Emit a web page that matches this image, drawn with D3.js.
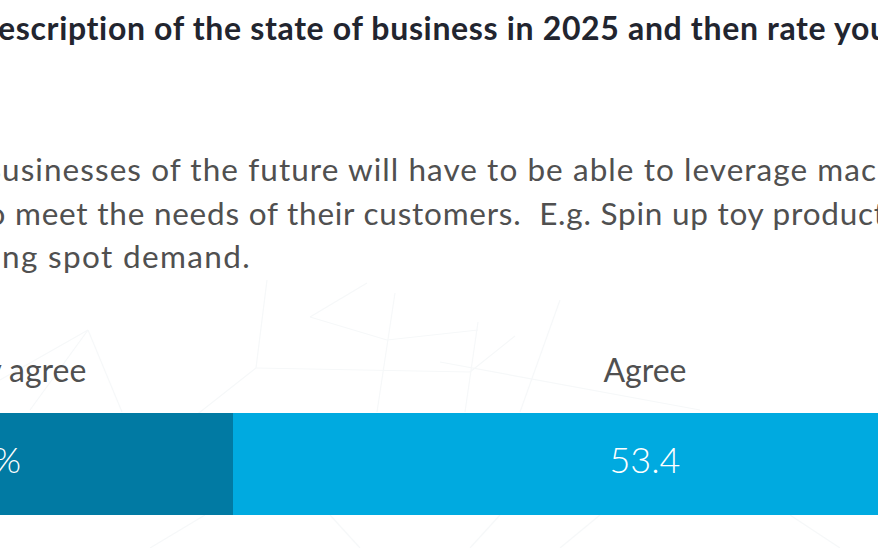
<!DOCTYPE html>
<html>
<head>
<meta charset="utf-8">
<script src="https://cdn.jsdelivr.net/npm/d3@7"></script>
<style>
  html, body { margin: 0; padding: 0; background: #ffffff; overflow: hidden; }
  svg { display: block; }
  text { white-space: pre; }
</style>
</head>
<body>
<svg id="chart" width="878" height="548"></svg>
<script>
// ---- data ----
const questionTitle = "Read the description of the state of business in 2025 and then rate your level of agreement";
const statementLines = [
  "Businesses of the future will have to be able to leverage machines",
  "to meet the needs of their customers.  E.g. Spin up toy production",
  "during spot demand."
];
const categories = ["Strongly agree", "Agree"];
const values = [32, 53.4];
const valueLabels = ["32%", "53.4"];
const colors = ["#017aa3", "#00aae0"];

// ---- layout ----
const W = 878, H = 548;
const svg = d3.select("#chart");

// faint geometric backdrop
const backdrop = [
  [[267, 280], [256, 368]], [[256, 368], [190, 420]], [[256, 368], [470, 372]],
  [[88, 330], [30, 410]], [[88, 330], [122, 412]], [[0, 380], [88, 330]],
  [[367, 283], [310, 317]], [[310, 317], [387, 340]], [[395, 293], [377, 412]],
  [[387, 340], [478, 330]], [[478, 322], [465, 412]], [[440, 362], [700, 410]],
  [[470, 372], [515, 336]], [[560, 300], [520, 412]],
  [[150, 548], [205, 515]], [[330, 515], [360, 548]], [[600, 515], [560, 548]],
  [[790, 515], [840, 548]], [[470, 548], [500, 515]]
];
svg.append("g")
  .selectAll("line")
  .data(backdrop)
  .join("line")
  .attr("x1", d => d[0][0]).attr("y1", d => d[0][1])
  .attr("x2", d => d[1][0]).attr("y2", d => d[1][1])
  .attr("stroke", "#f6f8f9")
  .attr("stroke-width", 1.2);

// Text line fitted between two anchor substrings by adjusting letter spacing
function fitLine(str, from, to, x0, x1, y, size, weight, fill) {
  const t = svg.append("text")
    .attr("x", 0).attr("y", y)
    .attr("font-family", "Lato, 'Open Sans', sans-serif")
    .attr("font-size", size)
    .attr("font-weight", weight)
    .attr("fill", fill)
    .text(str);
  const node = t.node();
  const s = str.indexOf(from);
  const e = str.indexOf(to) + to.length - 1;
  let ls = 0;
  for (let k = 0; k < 3; k++) {
    const a = node.getStartPositionOfChar(s).x;
    const b = node.getEndPositionOfChar(e).x;
    ls += ((x1 - x0) - (b - a)) / (e - s);
    t.style("letter-spacing", ls + "px");
  }
  const a = node.getStartPositionOfChar(s).x;
  t.attr("x", x0 - a);
  return t;
}

fitLine(questionTitle, "escription", "rate yo", -2, 870, 40, 32, 700, "#22252f");
fitLine(statementLines[0], "usinesses", "leverage ma", 2, 861, 181, 31.5, 400, "#505050");
fitLine(statementLines[1], "meet", "produ", 15, 858, 225, 31.5, 400, "#505050");
fitLine(statementLines[2], "ng spot", "demand.", 2, 251, 268, 31.5, 400, "#505050");

// ---- stacked bar ----
const x = d3.scaleLinear().domain([0, 100]).range([233 - 32 * 15.43, 233 - 32 * 15.43 + 1543]);
const y = d3.scaleBand().domain(["response"]).range([413, 515]);

const stacked = values.map((v, i) => {
  const start = d3.sum(values.slice(0, i));
  return { cat: categories[i], v, label: valueLabels[i], start, end: start + v, color: colors[i] };
});

const bar = svg.append("g");
bar.selectAll("rect")
  .data(stacked)
  .join("rect")
  .attr("x", d => x(d.start))
  .attr("width", d => x(d.end) - x(d.start))
  .attr("y", y("response"))
  .attr("height", y.bandwidth())
  .attr("fill", d => d.color);

// category labels above the bar
bar.selectAll("text.cat")
  .data(stacked)
  .join("text")
  .attr("class", "cat")
  .attr("x", d => x((d.start + d.end) / 2))
  .attr("y", 382)
  .attr("text-anchor", "middle")
  .attr("font-family", "Lato, 'Open Sans', sans-serif")
  .attr("font-size", 32)
  .attr("fill", "#505050")
  .text(d => d.cat);

// value labels inside the bar
bar.selectAll("text.val")
  .data(stacked)
  .join("text")
  .attr("class", "val")
  .attr("x", d => x((d.start + d.end) / 2))
  .attr("y", 473)
  .attr("text-anchor", "middle")
  .attr("font-family", "Lato, 'Open Sans', sans-serif")
  .attr("font-weight", 300)
  .attr("font-size", 36)
  .attr("fill", "#ffffff")
  .text(d => d.label);
</script>
</body>
</html>
